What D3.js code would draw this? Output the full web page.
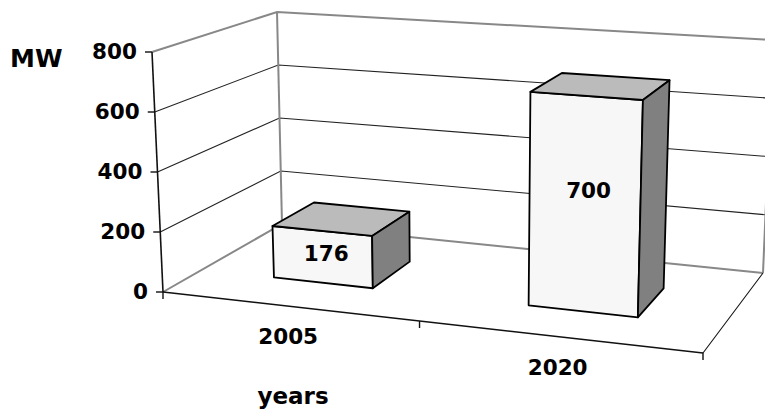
<!DOCTYPE html>
<html>
<head>
<meta charset="utf-8">
<script src="https://cdnjs.cloudflare.com/ajax/libs/d3/7.8.5/d3.min.js"></script>
<style>
  body { margin: 0; background: #fff; }
  text { font-family: "DejaVu Sans", Verdana, sans-serif; font-weight: bold; fill: #000; }
</style>
</head>
<body>
<div id="chart-area"></div>
<script>
// data
var categories = ["2005", "2020"];
var values = [176, 700];
var yTicks = [0, 200, 400, 600, 800];
var yLabelText = "MW";
var xLabelText = "years";

var width = 765, height = 410;

var svg = d3.select("#chart-area")
  .append("svg")
    .attr("width", width)
    .attr("height", height);

// scales (normalized 0..1 in the 3d box)
var x = d3.scaleBand().domain(categories).range([0, 1])
  .paddingInner(0.6).paddingOuter(0.3);
var y = d3.scaleLinear().domain([0, 800]).range([0, 1]);
var z = d3.scaleLinear().domain([0, 1]).range([0.33, 0.70]); // bar depth slot

// box corners on screen: c[v][w][u]
var c = [
  [ [[163, 292], [703, 353]], [[282, 224], [763, 273]] ], // floor: front, back
  [ [[152, 52],  [711, 92]],  [[277, 12],  [773, 40]] ]   // top: front, back
];
var persp = 0.905; // horizontal foreshortening

function lerp(a, b, t) { return [a[0] + (b[0] - a[0]) * t, a[1] + (b[1] - a[1]) * t]; }
function proj(t, v, w) {
  var u = persp * t / ((1 - t) + persp * t);
  var lo = lerp(lerp(c[0][0][0], c[0][0][1], u), lerp(c[0][1][0], c[0][1][1], u), w);
  var hi = lerp(lerp(c[1][0][0], c[1][0][1], u), lerp(c[1][1][0], c[1][1][1], u), w);
  return lerp(lo, hi, v);
}
var line = d3.line();

var g = svg.append("g");

// walls: gridlines
yTicks.forEach(function(d) {
  if (d === 0 || d === 800) return;
  var v = y(d);
  g.append("path")
    .attr("d", line([proj(0, v, 0), proj(0, v, 1), proj(1, v, 1)]))
    .attr("fill", "none").attr("stroke", "#222").attr("stroke-width", 1.1);
});

// wall and floor edges (gray)
[
  [proj(0, 1, 0), proj(0, 1, 1), proj(1, 1, 1)],
  [proj(0, 0, 1), proj(0, 1, 1)],
  [proj(1, 0, 1), proj(1, 1, 1)],
  [proj(0, 0, 0), proj(0, 0, 1), proj(1, 0, 1)]
].forEach(function(pts) {
  g.append("path").attr("d", line(pts))
    .attr("fill", "none").attr("stroke", "#888").attr("stroke-width", 2);
});

// floor right edge
g.append("path").attr("d", line([proj(1, 0, 0), proj(1, 0, 1)]))
  .attr("fill", "none").attr("stroke", "#111").attr("stroke-width", 1.1);

// value axis
g.append("path").attr("d", line([proj(0, 0, 0), proj(0, 1, 0)]))
  .attr("fill", "none").attr("stroke", "#111").attr("stroke-width", 1.6);
yTicks.forEach(function(d) {
  var p = proj(0, y(d), 0);
  g.append("line")
    .attr("x1", p[0] - 7).attr("x2", p[0]).attr("y1", p[1]).attr("y2", p[1])
    .attr("stroke", "#111").attr("stroke-width", 1.4);
  g.append("text")
    .attr("x", p[0] - 15).attr("y", p[1] - 1)
    .attr("text-anchor", "end").attr("dominant-baseline", "central")
    .attr("font-size", "21.5px")
    .text(d);
});

// category axis
g.append("path").attr("d", line([proj(0, 0, 0), proj(1, 0, 0)]))
  .attr("fill", "none").attr("stroke", "#111").attr("stroke-width", 1.6);
[0, 0.5, 1].forEach(function(t) {
  var p = proj(t, 0, 0);
  g.append("line")
    .attr("x1", p[0]).attr("x2", p[0]).attr("y1", p[1]).attr("y2", p[1] + 7)
    .attr("stroke", "#111").attr("stroke-width", 1.4);
});
categories.forEach(function(d) {
  var p = proj(x(d) + x.bandwidth() / 2, 0, 0);
  g.append("text")
    .attr("x", p[0]).attr("y", p[1] + 38)
    .attr("text-anchor", "middle")
    .attr("font-size", "21.5px")
    .text(d);
});

// bars
var w0 = z(0), w1 = z(1);
categories.forEach(function(d, i) {
  var t0 = x(d), t1 = x(d) + x.bandwidth(), v = y(values[i]);
  var faces = [
    { pts: [proj(t0, 0, w0), proj(t1, 0, w0), proj(t1, v, w0), proj(t0, v, w0)], fill: "#f7f7f7" },
    { pts: [proj(t0, v, w0), proj(t1, v, w0), proj(t1, v, w1), proj(t0, v, w1)], fill: "#bbbbbb" },
    { pts: [proj(t1, 0, w0), proj(t1, 0, w1), proj(t1, v, w1), proj(t1, v, w0)], fill: "#808080" }
  ];
  faces.forEach(function(f) {
    g.append("path")
      .attr("d", line(f.pts) + "Z")
      .attr("fill", f.fill)
      .attr("stroke", "#000").attr("stroke-width", 1.8)
      .attr("stroke-linejoin", "round");
  });
  var lp = proj(t0 + x.bandwidth() / 2, v * 0.56, w0);
  g.append("text")
    .attr("x", lp[0] + 4).attr("y", lp[1])
    .attr("text-anchor", "middle").attr("dominant-baseline", "central")
    .attr("font-size", "21.5px")
    .text(values[i]);
});

// axis titles
svg.append("text")
  .attr("x", 10).attr("y", 67)
  .attr("font-size", "25px")
  .text(yLabelText);
svg.append("text")
  .attr("x", 293).attr("y", 404)
  .attr("text-anchor", "middle")
  .attr("font-size", "23px")
  .text(xLabelText);
</script>
</body>
</html>
